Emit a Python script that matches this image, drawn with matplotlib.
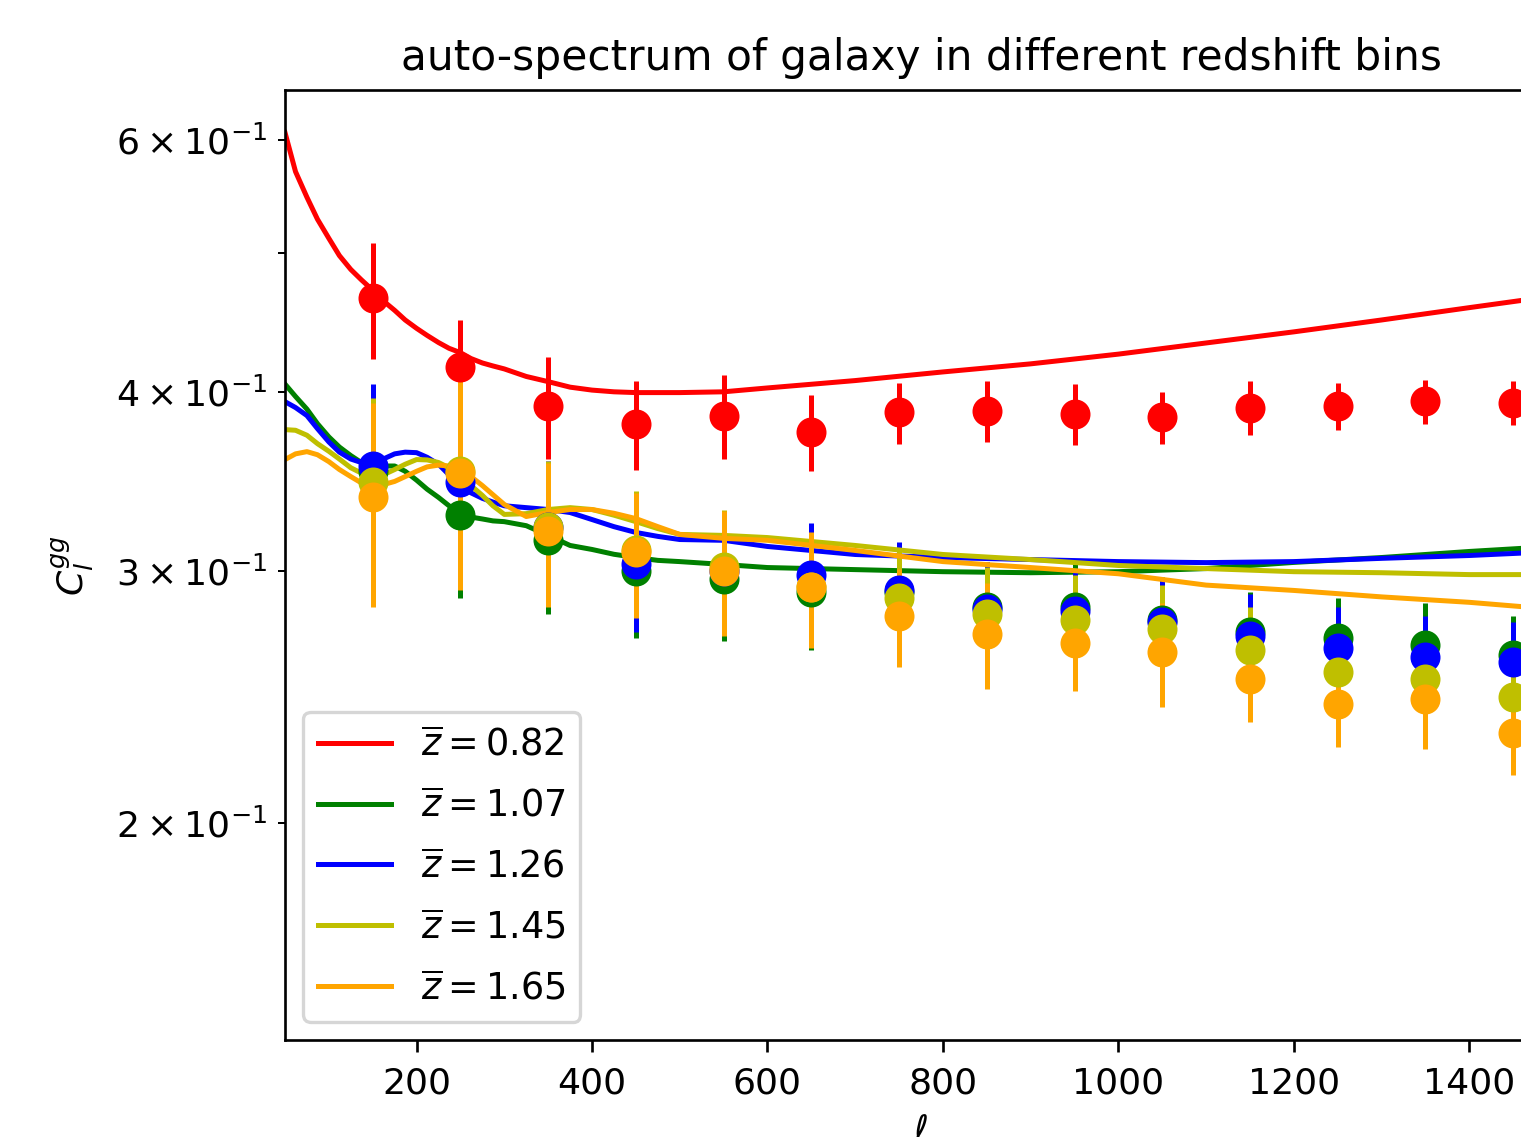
import numpy as np
import matplotlib
matplotlib.use('Agg')
import matplotlib.pyplot as plt

# multipole bins of the measured spectra
ell_data = [150, 250, 350, 450, 550, 650, 750, 850, 950, 1050, 1150, 1250, 1350, 1450]

# measured C_l (one list per redshift bin)
cl_082 = [0.465, 0.416, 0.391, 0.380, 0.385, 0.375, 0.387, 0.388, 0.386, 0.384, 0.390, 0.391, 0.394, 0.393]
cl_107 = [0.352, 0.328, 0.315, 0.300, 0.296, 0.290, 0.290, 0.283, 0.283, 0.277, 0.272, 0.269, 0.266, 0.262]
cl_126 = [0.355, 0.346, 0.322, 0.303, 0.300, 0.298, 0.291, 0.282, 0.281, 0.276, 0.270, 0.265, 0.261, 0.259]
cl_145 = [0.346, 0.352, 0.322, 0.310, 0.302, 0.292, 0.287, 0.280, 0.277, 0.273, 0.264, 0.255, 0.252, 0.245]
cl_165 = [0.338, 0.351, 0.320, 0.309, 0.300, 0.292, 0.279, 0.271, 0.267, 0.263, 0.252, 0.242, 0.244, 0.231]

# error bars
err_082 = [0.043, 0.033, 0.032, 0.027, 0.026, 0.023, 0.019, 0.019, 0.019, 0.016, 0.017, 0.015, 0.014, 0.014]
err_107 = [0.050, 0.041, 0.035, 0.031, 0.028, 0.026, 0.022, 0.021, 0.020, 0.020, 0.018, 0.018, 0.019, 0.017]
err_126 = [0.050, 0.044, 0.036, 0.031, 0.028, 0.026, 0.023, 0.022, 0.020, 0.020, 0.019, 0.018, 0.018, 0.017]
err_145 = [0.050, 0.045, 0.036, 0.031, 0.029, 0.026, 0.023, 0.022, 0.021, 0.020, 0.019, 0.018, 0.018, 0.017]
err_165 = [0.055, 0.060, 0.037, 0.031, 0.030, 0.027, 0.022, 0.023, 0.020, 0.022, 0.017, 0.016, 0.019, 0.015]

# theory curves
ell_th = [50, 62, 75, 87, 100, 112, 125, 137, 150, 162, 175, 187, 200, 212, 225, 237, 250, 262, 275, 287,
          300, 325, 350, 375, 400, 425, 450, 475, 500, 550, 600, 700, 800, 900, 1000, 1100, 1200, 1300, 1400, 1500]
th_082 = [0.607, 0.570, 0.547, 0.528, 0.512, 0.498, 0.487, 0.479, 0.471, 0.463, 0.456, 0.449, 0.443, 0.438, 0.433, 0.429, 0.426, 0.422, 0.419, 0.417,
          0.415, 0.410, 0.4066, 0.403, 0.4011, 0.400, 0.3995, 0.3995, 0.3995, 0.400, 0.4025, 0.4073, 0.413, 0.4184, 0.425, 0.4327, 0.4405, 0.449, 0.458, 0.467]
th_107 = [0.405, 0.397, 0.389, 0.380, 0.372, 0.366, 0.361, 0.357, 0.355, 0.355, 0.355, 0.352, 0.347, 0.342, 0.3375, 0.333, 0.329, 0.327, 0.326, 0.325,
          0.3246, 0.3225, 0.3175, 0.3124, 0.3104, 0.308, 0.3064, 0.305, 0.3044, 0.303, 0.3015, 0.3005, 0.2995, 0.299, 0.2995, 0.301, 0.304, 0.3064, 0.3094, 0.312]
th_126 = [0.3937, 0.390, 0.385, 0.377, 0.369, 0.363, 0.359, 0.357, 0.357, 0.359, 0.362, 0.363, 0.3627, 0.360, 0.356, 0.350, 0.344, 0.340, 0.337, 0.335,
          0.333, 0.332, 0.331, 0.3294, 0.3257, 0.322, 0.319, 0.317, 0.3154, 0.315, 0.3119, 0.3079, 0.3064, 0.3054, 0.3044, 0.3039, 0.3044, 0.306, 0.3074, 0.3094]
th_145 = [0.3764, 0.376, 0.373, 0.368, 0.3635, 0.359, 0.354, 0.351, 0.349, 0.350, 0.353, 0.356, 0.3587, 0.3585, 0.357, 0.354, 0.3495, 0.344, 0.3386, 0.333,
          0.3284, 0.3288, 0.331, 0.332, 0.331, 0.328, 0.3246, 0.321, 0.318, 0.3175, 0.3164, 0.3124, 0.3079, 0.3054, 0.3025, 0.301, 0.2995, 0.299, 0.2981, 0.2981]
th_165 = [0.3587, 0.3620, 0.3633, 0.3615, 0.3575, 0.353, 0.349, 0.3455, 0.344, 0.3445, 0.3463, 0.349, 0.352, 0.3545, 0.3555, 0.355, 0.353, 0.349, 0.344, 0.339,
          0.3337, 0.3273, 0.3294, 0.331, 0.331, 0.329, 0.3262, 0.322, 0.318, 0.316, 0.315, 0.3099, 0.3044, 0.3015, 0.2985, 0.2931, 0.2906, 0.2876, 0.2851, 0.2818]

labels = [r'$\overline{z}=0.82$', r'$\overline{z}=1.07$', r'$\overline{z}=1.26$',
          r'$\overline{z}=1.45$', r'$\overline{z}=1.65$']
colors = ['r', 'g', 'b', 'y', 'orange']

data = [cl_082, cl_107, cl_126, cl_145, cl_165]
errs = [err_082, err_107, err_126, err_145, err_165]
theory = [th_082, th_107, th_126, th_145, th_165]

plt.rcParams['font.size'] = 10.9

fig = plt.figure(figsize=(1521/240, 1137/240), dpi=240)
# axes run past the right edge, like the cropped original
ax = fig.add_axes([285/1521, 97/1137, 1272/1521, 950/1137])

for i in range(5):
    ax.plot(ell_th, theory[i], color=colors[i], label=labels[i])
    ax.errorbar(ell_data, data[i], yerr=errs[i], fmt='o', color=colors[i], ms=8)

ax.set_yscale('log')
ax.set_xlim(50, 1500)
ax.set_ylim(0.141, 0.650)
ax.tick_params(axis='x', pad=4.5)
ax.set_xlabel(r'$\ell$')
ax.set_ylabel(r'$C_l^{gg}$', labelpad=6)
ax.set_title('auto-spectrum of galaxy in different redshift bins', fontsize=12.7)
ax.legend(loc='lower left', fontsize=11, labelspacing=0.65)

fig.savefig('out.png', dpi=240)
